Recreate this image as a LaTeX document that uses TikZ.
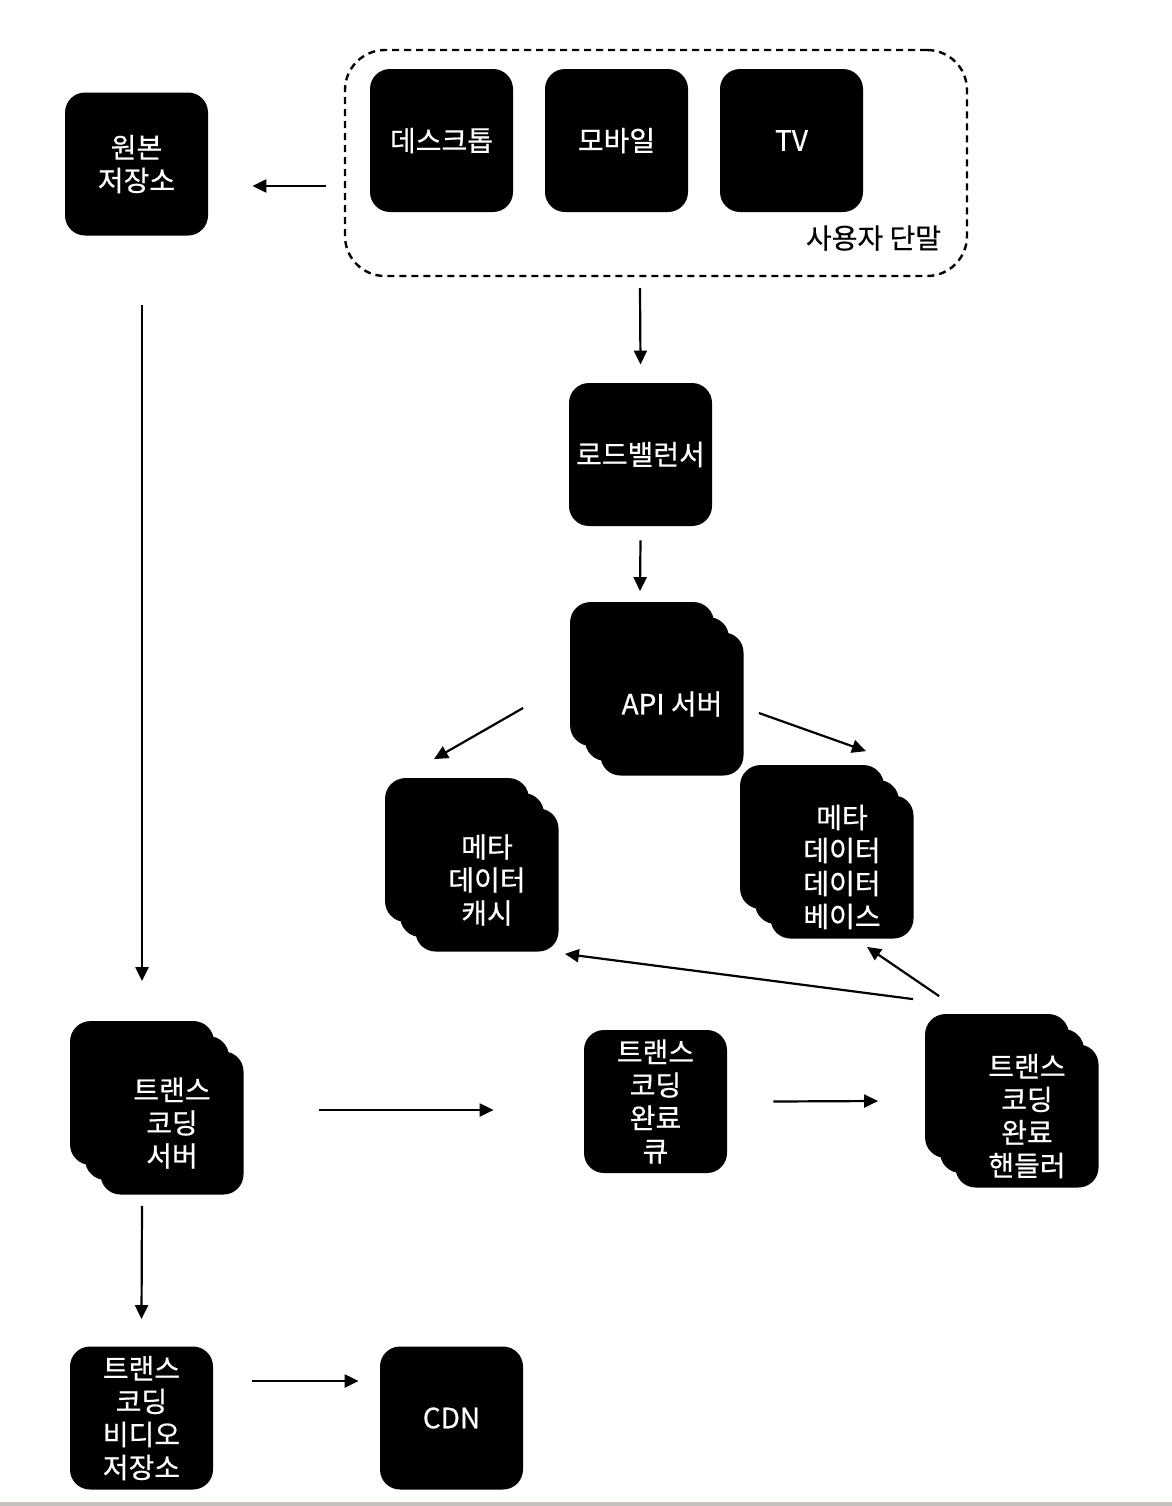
\documentclass[tikz,border=0pt]{standalone}
\usepackage{fontspec}
\setmainfont{Noto Sans CJK KR}
\newfontfamily\boxfont{Noto Sans CJK KR}[FakeBold=0.6]
\usepackage{xcolor}
\usetikzlibrary{arrows.meta,shadows}
\definecolor{ink}{HTML}{000000}
\definecolor{rulegray}{HTML}{C4C0BC}

\begin{document}
\begin{tikzpicture}[
  x=0.5pt,y=-0.5pt,
  font=\boxfont\fontsize{14}{16.5}\selectfont,
  box/.style={fill=ink,text=white,rounded corners=10pt,minimum width=71.5pt,
              minimum height=71.5pt,align=center,inner sep=0pt},
  stackbox/.style={box,double copy shadow={shadow xshift=-7.5pt,shadow yshift=7.5pt,fill=ink}},
  group/.style={draw=ink,line width=1.2pt,dash pattern=on 3.5pt off 2.5pt,rounded corners=20pt,
                minimum width=311pt,minimum height=113pt},
  flow/.style={-{Triangle[length=7pt,width=6.5pt]},line width=1.1pt,color=ink}]
  \useasboundingbox (0,0) rectangle (1172,1506);
  % user devices
  \node[group] (users) at (656,163) {};
  \node[box] (desk) at (441.5,140.5) {데스크톱};
  \node[box] (mobile) at (616.5,140.5) {모바일};
  \node[box] (tv) at (791.5,140.5) {TV};
  \node[text=ink] (userslabel) at (873.5,238) {사용자 단말};
  % storage and services
  \node[box] (origin) at (136.5,164) {원본\\저장소};
  \node[box] (lb) at (640.5,454.5) {로드밸런서};
  \node[stackbox] (api) at (672,704) {API 서버};
  \node[stackbox] (cache) at (487,880) {메타\\데이터\\캐시};
  \node[stackbox] (metadb) at (842,867) {메타\\데이터\\데이터\\베이스};
  % transcoding
  \node[stackbox] (tserver) at (172,1123) {트랜스\\코딩\\서버};
  \node[box] (queue) at (655.5,1101.5) {트랜스\\코딩\\완료\\큐};
  \node[stackbox] (handler) at (1027,1116) {트랜스\\코딩\\완료\\핸들러};
  \node[box] (tvideo) at (141.5,1418) {트랜스\\코딩\\비디오\\저장소};
  \node[box] (cdn) at (451.5,1418) {CDN};
  % connectors
  \draw[flow] ([shift={(-18,23)}]users.west) -- ([shift={(44,22)}]origin.east);
  \draw[flow] ([shift={(5.5,69)}]origin.south) -- ([shift={(-30,-70)}]tserver.north);
  \draw[flow] ([shift={(-16,11)}]users.south) -- ([shift={(0,-18)}]lb.north);
  \draw[flow] ([shift={(0,14)}]lb.south) -- ([shift={(-32,-41)}]api.north);
  \draw[flow] ([shift={(-77,4)}]api.west) -- ([shift={(-53,-49)}]cache.north);
  \draw[flow] ([shift={(15,9)}]api.east) -- ([shift={(24,-44)}]metadb.north);
  \draw[flow] ([shift={(75,-13)}]tserver.east) -- ([shift={(-90,8.5)}]queue.west);
  \draw[flow] ([shift={(46,0)}]queue.east) -- ([shift={(-77,-15)}]handler.west);
  \draw[flow] ([shift={(-42,-45)}]handler.north west) -- ([shift={(6,2)}]cache.south east);
  \draw[flow] ([shift={(-16,-48)}]handler.north west) -- ([shift={(25,8)}]metadb.south);
  \draw[flow] ([shift={(-30,11)}]tserver.south) -- ([shift={(0,-27)}]tvideo.north);
  \draw[flow] ([shift={(39,-37)}]tvideo.east) -- ([shift={(-21,-37)}]cdn.west);
  % bottom rule
  \fill[rulegray] (0,1502) rectangle (1172,1506);
\end{tikzpicture}
\end{document}
